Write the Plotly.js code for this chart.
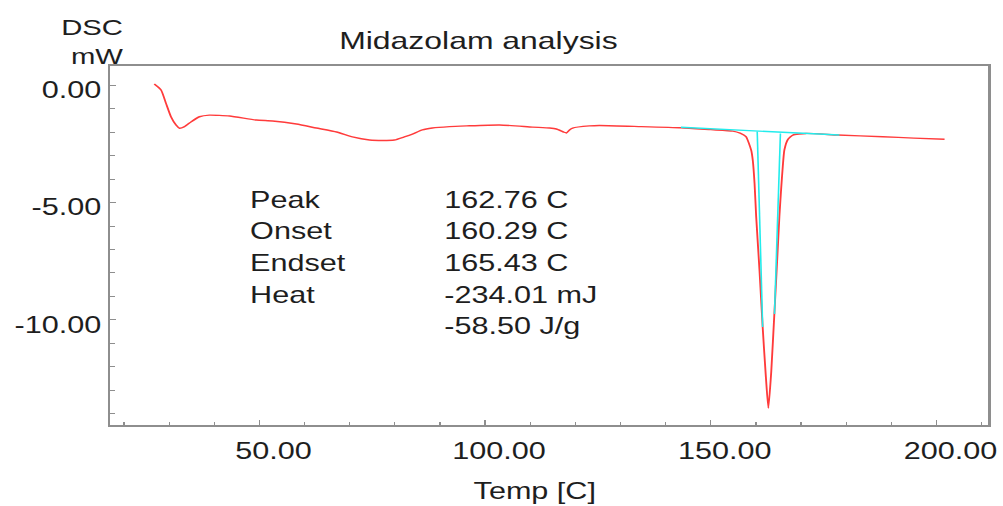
<!DOCTYPE html>
<html>
<head>
<meta charset="utf-8">
<script src="https://cdn.plot.ly/plotly-3.0.1.min.js"></script>
<style>
  html, body { margin: 0; padding: 0; background: #ffffff; overflow: hidden; }
  #chart { width: 754px; height: 506px; transform: scaleX(1.3302); transform-origin: 0 0; }
</style>
</head>
<body>
<div id="chart"></div>
<script>
// DSC curve (Temp [C] vs heat flow [mW])
var temp = [26.7, 28.2, 29.3, 30.4, 31.5, 32.3, 33.4, 34.9, 36.7, 38.9, 43.4, 49.3, 52.9, 58.2, 62.6, 67.1, 70.6, 74.4, 77.3, 79.9, 82.1, 83.9, 86.1, 88.3, 92.1, 95.9, 103.2, 110.5, 114.3, 115.8, 117.4, 118.0, 118.7, 119.4, 123.1, 125.3, 133.0, 143.4, 150.0, 154.9, 156.5, 157.8, 158.95, 159.3, 159.7, 160.06, 160.8, 161.5, 162.2, 162.76, 163.4, 164.1, 164.7, 165.2, 165.6, 165.95, 166.3, 167.1, 168.2, 171.1, 178.1, 188.1, 195.0, 201.8];
var heatFlow = [0.04, -0.21, -0.78, -1.35, -1.70, -1.84, -1.77, -1.56, -1.35, -1.28, -1.32, -1.49, -1.53, -1.66, -1.83, -2.00, -2.21, -2.34, -2.36, -2.34, -2.21, -2.09, -1.91, -1.83, -1.77, -1.74, -1.70, -1.79, -1.83, -1.87, -2.00, -2.04, -1.91, -1.83, -1.74, -1.72, -1.76, -1.82, -1.90, -1.96, -2.05, -2.20, -2.77, -3.19, -4.18, -5.60, -7.90, -10.30, -12.40, -13.75, -12.20, -9.70, -7.50, -5.60, -4.40, -3.48, -2.77, -2.31, -2.13, -2.06, -2.13, -2.20, -2.26, -2.31];

// Peak analysis construction lines (baseline and onset/endset tangents)
var baselineTemp = [143.4, 178.5];
var baselineFlow = [-1.80, -2.13];
var onsetTangentTemp = [160.29, 161.5];
var onsetTangentFlow = [-1.98, -10.30];
var endsetTangentTemp = [165.43, 164.12];
var endsetTangentFlow = [-2.06, -9.75];

// Peak analysis results
var statLabels = ['Peak', 'Onset', 'Endset', 'Heat', ''];
var statValues = ['162.76 C', '160.29 C', '165.43 C', '-234.01 mJ', '-58.50 J/g'];

// Tick labels
var xTickVals = [50, 100, 150, 200];
var xTickText = ['50.00', '100.00', '150.00', '200.00'];
var yTickVals = [0, -5, -10];
var yTickText = ['0.00', '-5.00', '-10.00'];

var FONT = '"Liberation Sans", Arial, sans-serif';
var TXT = '#1e1e1e';
var FRAME = '#8e8e8e';
var RED = '#ff3b3b';
var CYAN = '#22ecec';

var X_RANGE = [16.98, 211.5];
var Y_RANGE = [-14.47, 0.81];
// the original software draws its tick labels slightly offset from the ticks
var X_LABEL_OFFSET = -3.1;   // in temperature units (labels sit ~14px right of ticks)
var Y_LABEL_OFFSET = 0.21;   // in mW (labels sit ~5px below ticks)

var traces = [
  {x: temp, y: heatFlow, type: 'scatter', mode: 'lines', line: {color: RED, width: 1.4, shape: 'spline', smoothing: 0.5}, hoverinfo: 'skip'},
  {x: baselineTemp, y: baselineFlow, type: 'scatter', mode: 'lines', line: {color: CYAN, width: 1.4}, hoverinfo: 'skip'},
  {x: onsetTangentTemp, y: onsetTangentFlow, type: 'scatter', mode: 'lines', line: {color: CYAN, width: 1.2}, hoverinfo: 'skip'},
  {x: endsetTangentTemp, y: endsetTangentFlow, type: 'scatter', mode: 'lines', line: {color: CYAN, width: 1.2}, hoverinfo: 'skip'},
  // empty trace that only activates the label axes
  {x: [], y: [], xaxis: 'x2', yaxis: 'y2', type: 'scatter', mode: 'lines', hoverinfo: 'skip'}
];

var rowY = [0.627, 0.539, 0.451, 0.363, 0.276];
var annotations = [];
for (var i = 0; i < statLabels.length; i++) {
  if (statLabels[i]) {
    annotations.push({xref: 'paper', yref: 'paper', x: 0.156, y: rowY[i], xanchor: 'left', yanchor: 'middle',
      text: statLabels[i], showarrow: false, font: {family: FONT, size: 23, color: TXT}});
  }
  annotations.push({xref: 'paper', yref: 'paper', x: 0.378, y: rowY[i], xanchor: 'left', yanchor: 'middle',
    text: statValues[i], showarrow: false, font: {family: FONT, size: 23, color: TXT}});
}
annotations.push({xref: 'paper', yref: 'paper', x: 0.484, y: -0.184, xanchor: 'center', yanchor: 'middle',
  text: 'Temp [C]', showarrow: false, font: {family: FONT, size: 23, color: TXT}});
annotations.push({xref: 'paper', yref: 'paper', x: 0.018, y: 1.068, xanchor: 'right', yanchor: 'middle', align: 'right',
  text: 'DSC<br>mW', showarrow: false, font: {family: FONT, size: 22, color: TXT}});

var layout = {
  width: 754, height: 506, autosize: false,
  paper_bgcolor: '#ffffff', plot_bgcolor: '#ffffff',
  margin: {l: 83.4, r: 10.5, t: 66, b: 81, pad: 0},
  showlegend: false,
  title: {text: 'Midazolam analysis', x: 0.477, xref: 'container', xanchor: 'center',
          y: 0.919, yref: 'container', yanchor: 'middle', font: {family: FONT, size: 24, color: TXT}},
  xaxis: {
    range: X_RANGE, showgrid: false, zeroline: false,
    showline: true, linecolor: FRAME, linewidth: 2, mirror: true,
    tickmode: 'array', tickvals: xTickVals, showticklabels: false,
    ticks: 'inside', ticklen: 5, tickwidth: 1, tickcolor: FRAME,
    minor: {dtick: 10, tick0: 0, ticks: 'inside', ticklen: 3.5, tickwidth: 1, tickcolor: FRAME, showgrid: false},
    fixedrange: true
  },
  xaxis2: {
    overlaying: 'x', anchor: 'y2', side: 'bottom',
    range: [X_RANGE[0] + X_LABEL_OFFSET, X_RANGE[1] + X_LABEL_OFFSET],
    showgrid: false, zeroline: false, showline: false, ticks: '',
    tickmode: 'array', tickvals: xTickVals, ticktext: xTickText,
    tickfont: {family: FONT, size: 23, color: TXT},
    ticklabelstandoff: 10, fixedrange: true
  },
  yaxis: {
    range: Y_RANGE, showgrid: false, zeroline: false,
    showline: true, linecolor: FRAME, linewidth: 2, mirror: true,
    tickmode: 'array', tickvals: yTickVals, showticklabels: false,
    ticks: 'inside', ticklen: 4.5, tickwidth: 1, tickcolor: FRAME,
    minor: {dtick: 1, tick0: 0, ticks: 'inside', ticklen: 3.5, tickwidth: 1, tickcolor: FRAME, showgrid: false},
    fixedrange: true
  },
  yaxis2: {
    overlaying: 'y', anchor: 'x2', side: 'left',
    range: [Y_RANGE[0] + Y_LABEL_OFFSET, Y_RANGE[1] + Y_LABEL_OFFSET],
    showgrid: false, zeroline: false, showline: false,
    ticks: 'outside', ticklen: 1.3, tickcolor: 'rgba(0,0,0,0)',
    tickmode: 'array', tickvals: yTickVals, ticktext: yTickText,
    tickfont: {family: FONT, size: 23, color: TXT},
    fixedrange: true
  },
  annotations: annotations
};

Plotly.newPlot('chart', traces, layout, {displayModeBar: false, staticPlot: true});
</script>
</body>
</html>
